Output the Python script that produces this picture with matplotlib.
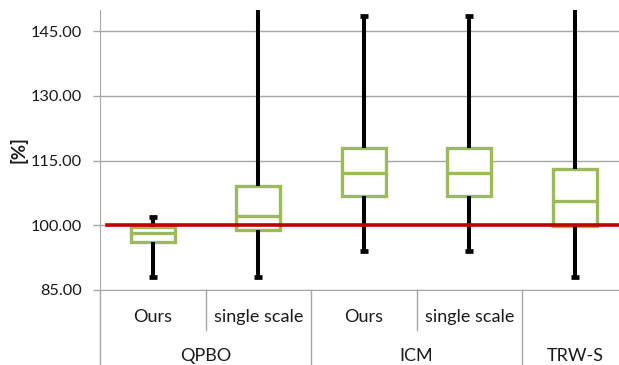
import matplotlib
matplotlib.use("Agg")
import matplotlib.pyplot as plt
import matplotlib.transforms as mtransforms

plt.rcParams['font.family'] = ['Lato', 'DejaVu Sans']

# Box statistics per method (percent of reference energy)
methods = ["Ours", "single scale", "Ours", "single scale", ""]
groups = ["QPBO", "ICM", "TRW-S"]
group_sizes = [2, 2, 1]
whisker_low = [88.0, 88.0, 94.0, 94.0, 88.0]
q1 = [96.1, 98.9, 106.7, 106.7, 99.9]
median = [98.3, 102.1, 112.2, 112.2, 105.6]
q3 = [99.6, 109.0, 117.9, 117.9, 113.0]
whisker_high = [101.9, 160.0, 148.5, 148.5, 160.0]
reference_level = 100.0
yticks = [85, 100, 115, 130, 145]

W, H = 619, 365
fig = plt.figure(figsize=(W / 100, H / 100), dpi=100)
left_px, right_px, top_px, bottom_px = 100, 627.5, 9.5, 290
ax = fig.add_axes([left_px / W, 1 - bottom_px / H,
                   (right_px - left_px) / W, (bottom_px - top_px) / H])

green = "#9BBB59"
grid_c = "#A6A6A6"
text_c = "#1a1a1a"

stats = []
for i in range(len(methods)):
    stats.append(dict(whislo=whisker_low[i], q1=q1[i], med=median[i],
                      q3=q3[i], whishi=whisker_high[i], fliers=[]))

ax.bxp(stats, positions=range(len(methods)), widths=0.42,
       capwidths=0.075, showfliers=False, patch_artist=True,
       boxprops=dict(facecolor="white", edgecolor=green, linewidth=2.4),
       medianprops=dict(color=green, linewidth=2.4),
       whiskerprops=dict(color="black", linewidth=2.9, solid_capstyle="butt"),
       capprops=dict(color="black", linewidth=3.4, solid_capstyle="butt"),
       zorder=3)

ax.set_xlim(-0.5, len(methods) - 0.5)
ax.set_ylim(85, 150)

# reference line
ax.plot([-0.43, len(methods) + 1], [reference_level] * 2, color="#C00000",
        linewidth=2.6, zorder=4, clip_on=False)

ax.set_yticks(yticks)
ax.set_yticklabels([f"{v:.2f}" for v in yticks], fontsize=11.8, color=text_c)
ax.yaxis.grid(True, color=grid_c, linewidth=1.0, zorder=0)
ax.set_axisbelow(True)
ax.tick_params(axis="y", length=5, width=1, color=grid_c, pad=8)
ax.tick_params(axis="x", bottom=False, labelbottom=False)
for s in ["top", "right"]:
    ax.spines[s].set_visible(False)
ax.spines["left"].set_color(grid_c)
ax.spines["bottom"].set_color(grid_c)
ax.spines["left"].set_bounds(85, 150)

ax.set_ylabel("[%]", fontsize=13.5, fontweight="bold", labelpad=2, color=text_c)

# Two-level category axis
ax_h = bottom_px - top_px
def ay(px_below):
    return -px_below / ax_h

trans = mtransforms.blended_transform_factory(ax.transData, ax.transAxes)
line_kw = dict(color=grid_c, linewidth=1.0, transform=trans, clip_on=False)

# left axis extends to the bottom of the figure
ax.plot([-0.5, -0.5], [0, ay(80)], **line_kw)

for i, name in enumerate(methods):
    ax.text(i, ay(27), name, transform=trans, ha="center", va="center",
            fontsize=13, color=text_c)

start = 0
for g, n in zip(groups, group_sizes):
    end = start + n
    for k in range(start + 1, end):
        ax.plot([k - 0.5, k - 0.5], [0, ay(40)], **line_kw)
    ax.plot([end - 0.5, end - 0.5], [0, ay(80)], **line_kw)
    ax.text((start + end - 1) / 2, ay(66), g, transform=trans, ha="center",
            va="center", fontsize=13, color=text_c)
    start = end

fig.savefig("out.png", dpi=100)
